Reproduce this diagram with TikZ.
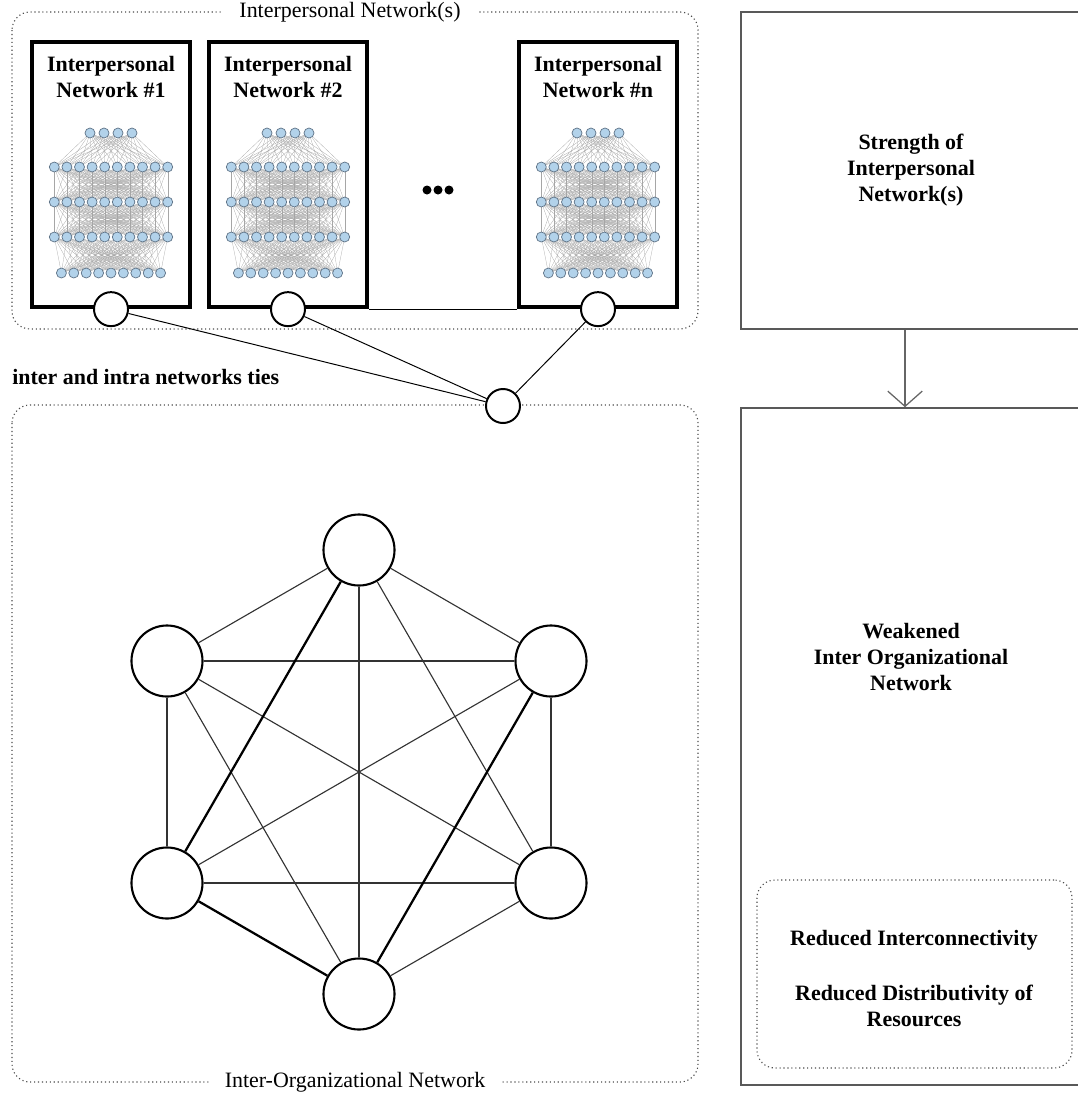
\documentclass[tikz,border=0pt]{standalone}
\usepackage{fontspec}
\setmainfont{Liberation Serif}
\usetikzlibrary{positioning,calc,arrows.meta}
\tikzset{>={Straight Barb[length=3.8mm,width=8.6mm]}}
\definecolor{netblue}{RGB}{178,210,234}
\definecolor{netrim}{RGB}{95,115,135}

% little layered net inside each interpersonal box
\newcommand{\layernet}[1]{%
  \begin{scope}[shift={(#1,0)}]
    \foreach \na/\ya/\sa/\nb/\yb/\sb in {4/133/14/10/167/12.6,10/167/12.6/10/202/12.6,10/202/12.6/10/237/12.6,10/237/12.6/9/273/12.4}
      \foreach \i in {1,...,\na}
        \foreach \j in {1,...,\nb}
          \draw[netline] ({(\i-(\na+1)/2)*\sa},\ya) -- ({(\j-(\nb+1)/2)*\sb},\yb);
    \foreach \n/\y/\s in {4/133/14,10/167/12.6,10/202/12.6,10/237/12.6,9/273/12.4}
      \foreach \i in {1,...,\n}
        \draw[netdot] ({(\i-(\n+1)/2)*\s},\y) circle (5);
  \end{scope}}

\begin{document}
\begin{tikzpicture}[x=0.025cm, y=-0.025cm,
    font=\fontsize{15.6}{18.5}\selectfont,
    frame/.style={draw=black!70, dotted, line width=0.8pt, rounded corners=4.5mm},
    framelabel/.style={fill=white, inner xsep=4mm, inner ysep=1pt},
    netbox/.style={draw, line width=3pt, minimum width=3.95cm, minimum height=6.625cm, inner sep=0pt},
    title/.style={font=\fontsize{15.6}{18.5}\selectfont\bfseries, align=center, inner sep=0pt},
    port/.style={circle, draw, fill=white, line width=1.4pt, minimum size=0.85cm, inner sep=0pt},
    orgnode/.style={circle, draw, fill=white, line width=1.5pt, minimum size=1.775cm, inner sep=0pt},
    tie/.style={draw=black!80, line width=0.8pt},
    strongtie/.style={draw=black, line width=1.6pt},
    sidebox/.style={draw=black!65, line width=1pt, minimum width=8.5cm, inner sep=0pt},
    netline/.style={draw=black!35, line width=0.18pt},
    netdot/.style={fill=netblue, draw=netrim, line width=0.5pt}
]
\useasboundingbox (0,0) rectangle (1078,1094);
\clip (0,0) rectangle (1078,1094);

% interpersonal networks
\draw[frame] (12,12) rectangle (698,329);
\node[framelabel] (ipLabel) at (350,12) {Interpersonal Network(s)};

\foreach \b/\x in {1/111, 2/288, n/598} {
  \node[netbox] (ip\b) at (\x,174.5) {};
  \node[title, below=4mm of ip\b.north] (ipt\b) {Interpersonal\\Network \#\b};
  \layernet{\x}
  \node[port] (p\b) at (ip\b.south) {};
}
\draw[line width=0.6pt] (ip2.south east) -- (ipn.south west);

\coordinate (more) at (438,190);
\foreach \dx in {-11,0,11}
  \fill ($(more)+(\dx,0)$) circle (4.5);

% inter-organizational network
\draw[frame] (12,405) rectangle (698,1082);
\node[framelabel] (orgLabel) at (355,1082) {Inter-Organizational Network};

\node[title, anchor=west] (tieLabel) at (12,377) {inter and intra networks ties};
\node[port] (hub) at (503,406) {};
\foreach \b in {1,2,n}
  \draw[line width=0.7pt] (p\b) -- (hub);

\node[orgnode] (o1) at (359,550) {};
\node[orgnode] (o2) at (167,661) {};
\node[orgnode] (o3) at (167,883) {};
\node[orgnode] (o4) at (359,994) {};
\node[orgnode] (o5) at (551,883) {};
\node[orgnode] (o6) at (551,661) {};
\foreach \a/\c in {1/2,1/4,1/5,1/6,2/3,2/4,2/5,2/6,3/5,3/6,4/5,5/6}
  \draw[tie] (o\a) -- (o\c);
\foreach \a/\c in {1/3,3/4,6/4}
  \draw[strongtie] (o\a) -- (o\c);

% outcome boxes
\node[sidebox, title, minimum height=7.925cm] (strength) at (911,170.5) {Strength of\\Interpersonal\\Network(s)};
\node[sidebox, minimum height=16.925cm] (weak) at (911,746.5) {};
\node[title] (weakText) at (911,657) {Weakened\\Inter Organizational\\Network};
\draw[->, draw=black!60, line width=0.9pt] ([xshift=-1.5mm]strength.south) -- ([xshift=-1.5mm]weak.north);

\node[frame, minimum width=7.875cm, minimum height=4.7cm] (effects) at (914.5,974) {};
\node[title] (lessLinks) at (914,940) {Reduced Interconnectivity};
\node[title] (lessSpread) at (914,1006) {Reduced Distributivity of\\Resources};
\end{tikzpicture}
\end{document}
